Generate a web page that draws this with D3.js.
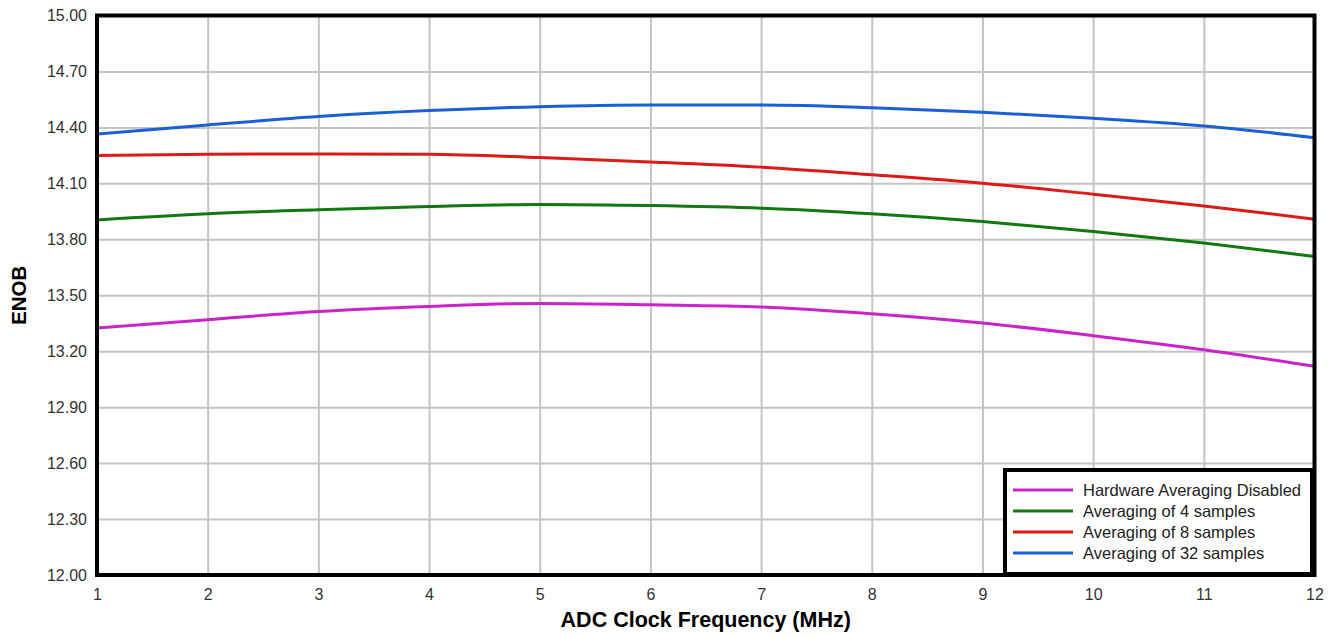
<!DOCTYPE html>
<html>
<head>
    <meta charset="utf-8">
    <title>ENOB vs ADC Clock Frequency</title>
    <script src="https://d3js.org/d3.v7.min.js"></script>
    <style>
        body { margin: 0; background: #fff; }
        text { font-family: "Liberation Sans", Arial, sans-serif; }
    </style>
</head>
<body>
    <div id="chart"></div>
    <script>

        // data
        var freq = [1, 2, 3, 4, 5, 6, 7, 8, 9, 10, 11, 12];
        var hwDisabled = [13.324, 13.369, 13.413, 13.440, 13.456, 13.449, 13.437, 13.401, 13.351, 13.283, 13.208, 13.119];
        var avg4 = [13.904, 13.937, 13.958, 13.976, 13.987, 13.981, 13.967, 13.937, 13.895, 13.842, 13.780, 13.708];
        var avg8 = [14.249, 14.256, 14.258, 14.256, 14.238, 14.215, 14.187, 14.146, 14.101, 14.042, 13.979, 13.908];
        var avg32 = [14.364, 14.413, 14.458, 14.490, 14.511, 14.520, 14.520, 14.506, 14.481, 14.449, 14.408, 14.345];
        var yTicks = [12.0, 12.3, 12.6, 12.9, 13.2, 13.5, 13.8, 14.1, 14.4, 14.7, 15.0];

        var seriesNames = ["Hardware Averaging Disabled", "Averaging of 4 samples", "Averaging of 8 samples", "Averaging of 32 samples"];
        var seriesValues = [hwDisabled, avg4, avg8, avg32];
        var colors = ["#cc22cc", "#107a10", "#dd1a1a", "#1a5fd8"];

        var margin = {top: 15.5, right: 19.5, bottom: 62, left: 97};
        var width = 1334 - margin.left - margin.right;
        var height = 637 - margin.top - margin.bottom;

        var svg = d3.select("#chart")
                    .append("svg")
                    .attr("width", 1334)
                    .attr("height", 637)
                    .append("g")
                    .attr("transform", "translate(" + margin.left + "," + margin.top + ")");

        var x = d3.scaleLinear().domain([1, 12]).range([0, width]);
        var y = d3.scaleLinear().domain([12, 15]).range([height, 0]);

        // grid + tick labels
        var xAxis = svg.append("g")
            .attr("transform", "translate(0," + height + ")")
            .call(d3.axisBottom(x).tickValues(freq).tickSize(-height).tickPadding(14).tickFormat(d3.format("d")));
        var yAxis = svg.append("g")
            .call(d3.axisLeft(y).tickValues(yTicks).tickSize(-width).tickPadding(10).tickFormat(d3.format(".2f")));

        [xAxis, yAxis].forEach(function(a) {
            a.select(".domain").remove();
            a.selectAll(".tick line").attr("stroke", "#c4c4c4").attr("stroke-width", 2);
            a.selectAll(".tick text")
                .attr("fill", "#333")
                .style("font-size", "16px")
                .style("font-family", "'Liberation Sans', Arial, sans-serif");
        });

        var line = d3.line()
            .x(function(d, i) { return x(freq[i]); })
            .y(function(d) { return y(d); })
            .curve(d3.curveMonotoneX);

        seriesValues.forEach(function(vals, i) {
            svg.append("path")
                .datum(vals)
                .attr("fill", "none")
                .attr("stroke", colors[i])
                .attr("stroke-width", 3)
                .attr("d", line);
        });

        // plot border
        svg.append("rect")
            .attr("x", 0)
            .attr("y", 0)
            .attr("width", width)
            .attr("height", height)
            .attr("fill", "none")
            .attr("stroke", "#000")
            .attr("stroke-width", 4);

        // axis titles
        svg.append("text")
            .attr("x", width / 2)
            .attr("y", height + 52)
            .attr("text-anchor", "middle")
            .style("font-size", "21.5px")
            .style("font-weight", "bold")
            .text("ADC Clock Frequency (MHz)");

        svg.append("text")
            .attr("transform", "rotate(-90)")
            .attr("x", -height / 2)
            .attr("y", -71)
            .attr("text-anchor", "middle")
            .style("font-size", "20.5px")
            .style("font-weight", "bold")
            .text("ENOB");

        // legend
        var lg = svg.append("g").attr("transform", "translate(" + (1005 - margin.left) + "," + (470 - margin.top) + ")");
        lg.append("rect")
            .attr("width", 307)
            .attr("height", 104)
            .attr("fill", "#fff")
            .attr("stroke", "#000")
            .attr("stroke-width", 4);

        seriesNames.forEach(function(name, i) {
            var ry = 20 + i * 21;
            lg.append("line")
                .attr("x1", 8)
                .attr("x2", 68)
                .attr("y1", ry)
                .attr("y2", ry)
                .attr("stroke", colors[i])
                .attr("stroke-width", 3);
            lg.append("text")
                .attr("x", 78)
                .attr("y", ry + 6)
                .attr("fill", "#222")
                .style("font-size", "16.5px")
                .text(name);
        });

    </script>
</body>
</html>
